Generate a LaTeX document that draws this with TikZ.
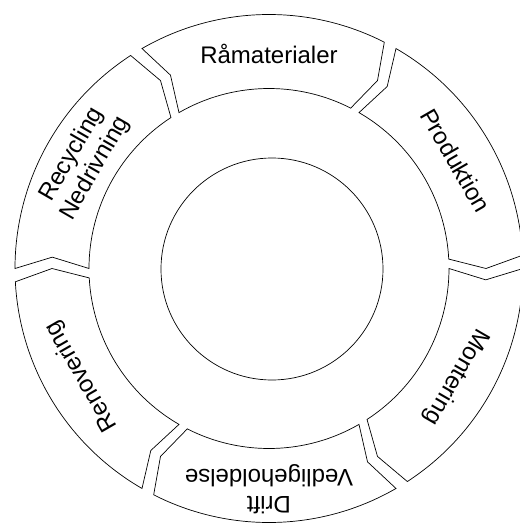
\documentclass[tikz,border=0pt]{standalone}
\usepackage{fontspec}
\setmainfont{Liberation Sans}
\usepackage{tikz}

\begin{document}
\begin{tikzpicture}[line width=0.7pt,
        rotulo/.style={align=center, font=\fontsize{24}{27}\selectfont}]
        \useasboundingbox (-269pt,-254.5pt) rectangle (251pt,268.5pt);

        % Anel: seis etapas (ponta no sentido horario)
        \draw (120:254pt) arc[start angle=120, end angle=63, radius=254pt] -- (60:217pt) -- (63:180pt)
              arc[start angle=63, end angle=120, radius=180pt] -- (117:217pt) -- cycle;
        \draw (60:254pt) arc[start angle=60, end angle=3, radius=254pt] -- (0:217pt) -- (3:180pt)
              arc[start angle=3, end angle=60, radius=180pt] -- (57:217pt) -- cycle;
        \draw (0:254pt) arc[start angle=0, end angle=-57, radius=254pt] -- (-60:217pt) -- (-57:180pt)
              arc[start angle=-57, end angle=0, radius=180pt] -- (-3:217pt) -- cycle;
        \draw (-60:254pt) arc[start angle=-60, end angle=-117, radius=254pt] -- (-120:217pt) -- (-117:180pt)
              arc[start angle=-117, end angle=-60, radius=180pt] -- (-63:217pt) -- cycle;
        \draw (-120:254pt) arc[start angle=-120, end angle=-177, radius=254pt] -- (-180:217pt) -- (-177:180pt)
              arc[start angle=-177, end angle=-120, radius=180pt] -- (-123:217pt) -- cycle;
        \draw (180:254pt) arc[start angle=180, end angle=123, radius=254pt] -- (120:217pt) -- (123:180pt)
              arc[start angle=123, end angle=180, radius=180pt] -- (177:217pt) -- cycle;

        % Textos
        \node[rotulo] (ram) at (90:215pt) {Råmaterialer};
        \node[rotulo, rotate=-60] (prod) at (30:216pt) {Produktion};
        \node[rotulo, rotate=-120] (mont) at (-30:216pt) {Montering};
        \node[rotulo, rotate=180] (drift) at (-90:221pt) {Drift\\Vedligeholdelse};
        \node[rotulo, rotate=120] (renov) at (-150:216pt) {Renovering};
        \node[rotulo, rotate=60] (recyc) at (150:214pt) {Recycling\\Nedrivning};

        % Centro
        \node[draw, circle, minimum size=222pt, inner sep=0pt] (centro) at (3pt,-0.5pt) {};
\end{tikzpicture}
\end{document}
